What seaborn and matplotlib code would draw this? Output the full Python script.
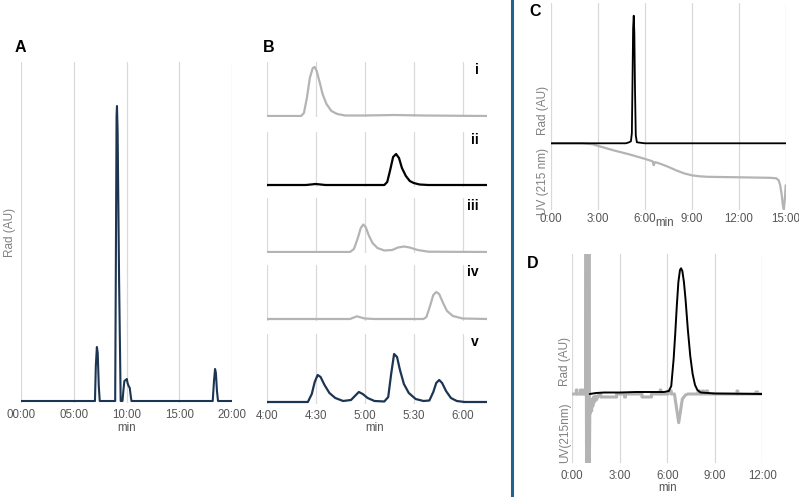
import matplotlib.pyplot as plt
import seaborn as sns
from matplotlib.lines import Line2D

sns.set_theme(style="white")
plt.rcParams['font.family'] = ['Liberation Sans', 'DejaVu Sans']

# ---------------- data (arbitrary units) ----------------
# A: full radio trace (min)
A_time = [0, 7.02, 7.1, 7.2, 7.28, 7.38, 7.47, 8.93, 9.0, 9.06, 9.1, 9.16, 9.3, 9.45,
          9.62, 9.72, 9.8, 9.92, 10.03, 10.1, 10.2, 10.31, 10.4, 10.47,
          18.15, 18.27, 18.37, 18.45, 18.55, 18.65, 20]
A_rad = [0, 0, 35, 54, 48, 15, 0, 0, 150, 285, 295, 270, 120, 0,
         0, 12, 20, 21, 22, 18, 15, 13, 5, 0,
         0, 20, 32, 28, 10, 0, 0]

# B: zoomed traces i - v
B_i_time = [4.0, 4.35, 4.38, 4.41, 4.44, 4.47, 4.49, 4.51, 4.54, 4.57, 4.61, 4.66, 4.72, 4.8, 5.0, 5.3, 5.6, 6.25]
B_i = [0, 0, 3, 18, 38, 48, 49, 45, 34, 22, 12, 5, 2, 0.5, 0.5, 1, 0.5, 0]

B_ii_time = [4.0, 4.4, 4.5, 4.6, 5.2, 5.23, 5.26, 5.29, 5.32, 5.35, 5.38, 5.42, 5.46, 5.5, 5.56, 5.65, 6.25]
B_ii = [0, 0, 1, 0, 0, 3, 15, 28, 31, 27, 17, 9, 4, 2, 0.5, 0, 0]

B_iii_time = [4.0, 4.85, 4.89, 4.93, 4.96, 4.985, 5.01, 5.04, 5.08, 5.13, 5.2, 5.28, 5.34, 5.4, 5.46, 5.54, 5.65, 6.25]
B_iii = [0, 0, 3, 14, 24, 27.5, 25, 17, 9, 4, 1.5, 2, 4.5, 5.5, 4.5, 2, 0.3, 0]

B_iv_time = [4.0, 4.85, 4.92, 5.0, 5.1, 5.6, 5.63, 5.67, 5.7, 5.73, 5.76, 5.8, 5.84, 5.9, 6.0, 6.25]
B_iv = [0, 0, 2.7, 0.5, 0, 0, 2, 14, 24, 27, 25, 16, 8, 3, 0.5, 0]

B_v_time = [4.0, 4.42, 4.46, 4.49, 4.52, 4.55, 4.59, 4.64, 4.7, 4.78, 4.86, 4.91, 4.94, 4.98, 5.03,
            5.1, 5.2, 5.24, 5.27, 5.3, 5.33, 5.36, 5.4, 5.45, 5.52, 5.6, 5.66, 5.7, 5.73, 5.76,
            5.79, 5.83, 5.88, 5.94, 6.02, 6.25]
B_v = [0, 0, 8, 20, 27, 25, 17, 9, 4, 1, 2, 7, 10, 8, 4,
       1, 0.5, 5, 28, 48, 45, 32, 18, 9, 3, 1, 1.5, 10, 19, 22,
       19, 11, 4, 1, 0, 0]

# C: radio (black) and UV 215 nm (grey)
C_rad_time = [0, 4.8, 5.0, 5.12, 5.18, 5.22, 5.26, 5.3, 5.34, 5.38, 5.43, 5.5, 6.0, 15.0]
C_rad = [0, 0, 1, 2, 10, 60, 115, 127.6, 110, 55, 8, 1, 0, 0]
C_uv_time = [0, 2.0, 2.7, 3.0, 4.0, 5.0, 6.0, 6.5, 6.58, 6.63, 6.7, 7.0, 7.5, 8.0, 8.5, 9.0, 9.5,
             10.0, 12.0, 14.0, 14.4, 14.55, 14.65, 14.75, 14.82, 14.88, 14.95, 15.0]
C_uv = [0, 0, -1, -2.5, -7, -11, -15.5, -18, -22, -19, -19, -20.5, -23.5, -27, -30, -32, -33,
        -33.5, -34, -34.5, -35, -37, -42, -52, -62, -66, -55, -42]

# D: radio (black) and UV 215 nm (grey)
D_rad_time = [1.1, 1.5, 2.0, 3.0, 4.0, 5.0, 5.8, 6.1, 6.25, 6.4, 6.5, 6.6, 6.7, 6.8, 6.87, 6.95,
              7.05, 7.15, 7.3, 7.45, 7.6, 7.75, 7.9, 8.1, 9.0, 12.0]
D_rad = [0, 1, 1.5, 1.5, 2, 2, 2, 3, 8, 35, 60, 88, 112, 124, 125.7, 123,
         112, 95, 64, 38, 20, 9, 4, 1.5, 0.5, 0]
D_uv_time = [0.0, 0.25, 0.25, 0.3, 0.3, 0.52, 0.52, 0.58, 0.58, 0.7, 0.7, 0.76, 0.76,
             0.84, 0.87, 0.9, 0.93, 0.96, 0.99, 1.02, 1.05, 1.08, 1.11,
             1.14, 1.18, 1.22, 1.26, 1.3, 1.34, 1.4, 1.46, 1.52, 1.6, 1.7,
             1.8, 1.8, 2.8, 2.8, 3.3, 3.3, 3.36, 3.36, 4.4, 4.4, 5.0, 5.0,
             5.55, 5.55, 5.6, 5.6, 6.05, 6.05, 6.25, 6.25, 6.45, 6.72, 6.95, 7.15, 7.3,
             7.95, 7.95, 8.05, 8.05, 8.2, 8.2, 8.3, 8.3, 8.45, 8.45, 8.55, 8.55,
             10.4, 10.4, 10.45, 10.45, 11.6, 11.6, 11.7, 11.7, 12.0]
D_uv = [0, 0, 4, 4, 0, 0, 4, 4, 0, 0, 4, 4, 0,
        0, 140, -69, 140, -69, 140, -69, 140, -69, -10,
        -19, -8, -17, -5, -12, -3, -8, -2, -6, -3, 0,
        0, -3, -3, 0, 0, -3, -3, 0, 0, -3, -3, 0,
        0, 4, 4, 0, 0, 3, 3, 0, 0, -28.7, -5, -1, 0,
        0, 3, 3, 0, 0, 3, 3, 0, 0, 3, 3, 0,
        0, 3, 3, 0, 0, 2, 2, 0, 0]

A_ticks = [0, 5, 10, 15, 20]
A_labels = ["00:00", "05:00", "10:00", "15:00", "20:00"]
B_ticks = [4.0, 4.5, 5.0, 5.5, 6.0]
B_labels = ["4:00", "4:30", "5:00", "5:30", "6:00"]
C_ticks = [0, 3, 6, 9, 12, 15]
C_labels = ["0:00", "3:00", "6:00", "9:00", "12:00", "15:00"]
D_ticks = [0, 3, 6, 9, 12]
D_labels = ["0:00", "3:00", "6:00", "9:00", "12:00"]

NAVY = "#1c3553"
GREY = "#b4b4b4"

# ---------------- layout ----------------
W, H = 799, 497
fig = plt.figure(figsize=(W / 100, H / 100), dpi=100)


def px_axes(l, t, r, b):
    return fig.add_axes([l / W, 1 - b / H, (r - l) / W, (b - t) / H])


def style(ax, xlim, ylim, ticks, labels=None, pad=4.5):
    ax.set_xlim(xlim)
    ax.set_ylim(ylim)
    ax.set_xticks(ticks)
    ax.set_xticklabels(labels if labels else [])
    ax.set_yticks([])
    ax.grid(axis='x', color='#d9d9d9', lw=0.9)
    ax.grid(axis='y', visible=False)
    ax.set_axisbelow(True)
    for s in ax.spines.values():
        s.set_visible(False)
    ax.tick_params(axis='x', length=0, pad=pad, labelsize=8.3, labelcolor='#555555')
    ax.set_xlabel('')
    ax.set_ylabel('')
    ax.patch.set_alpha(0)


def trace(ax, x, y, color, lw):
    sns.lineplot(x=x, y=y, ax=ax, color=color, lw=lw, estimator=None, sort=False)


# A
ax = px_axes(20.7, 62, 232.3, 403)
trace(ax, A_time, A_rad, NAVY, 1.5)
style(ax, (0, 20), (-2, 339), A_ticks, A_labels)

# B
rows = [(B_i_time, B_i, GREY, 62, 116, "i"),
        (B_ii_time, B_ii, "black", 132, 185, "ii"),
        (B_iii_time, B_iii, GREY, 198, 252, "iii"),
        (B_iv_time, B_iv, GREY, 265, 319, "iv"),
        (B_v_time, B_v, NAVY, 334, 402, "v")]
for k, (x, y, c, top, base, lab) in enumerate(rows):
    ax = px_axes(266.7, top, 486.7, base + 1.5)
    trace(ax, x, y, c, 1.6)
    last = k == len(rows) - 1
    style(ax, (4.0, 6.245), (-1.5, base - top), B_ticks, B_labels if last else None)
    fig.text(479 / W, 1 - (top + 7.5) / H, lab, ha='right', va='center',
             fontsize=10, fontweight='bold', color='black')

# C
ax = px_axes(550.7, 3, 785.7, 210)
trace(ax, C_uv_time, C_uv, GREY, 1.6)
trace(ax, C_rad_time, C_rad, "black", 1.3)
style(ax, (0, 15), (-66.7, 140.3), C_ticks, C_labels, pad=2.5)

# D
ax = px_axes(572.3, 254, 762.3, 463.3)
trace(ax, D_uv_time, D_uv, GREY, 2.2)
trace(ax, D_rad_time, D_rad, "black", 1.4)
style(ax, (0, 12), (-69.3, 140), D_ticks, D_labels)

# ---------------- texts ----------------
def ftext(x, y, s, **kw):
    fig.text(x / W, 1 - y / H, s, **kw)


for lab, x, y in [("A", 15, 47), ("B", 263, 47), ("C", 529, 12), ("D", 527, 264)]:
    ftext(x, y, lab, ha='left', va='center', fontsize=11.5, fontweight='bold', color='black')

lab_kw = dict(rotation=90, ha='center', va='center', fontsize=8.5, color='#808080')
ftext(10, 232, "Rad (AU)", **lab_kw)
ftext(543, 110, "Rad (AU)", **lab_kw)
ftext(543, 181, "UV (215 nm)", **lab_kw)
ftext(565, 361, "Rad (AU)", **lab_kw)
ftext(565, 433, "UV(215nm)", **lab_kw)

min_kw = dict(ha='center', va='center', fontsize=8.3, color='#555555')
ftext(127, 428, "min", **min_kw)
ftext(375, 428, "min", **min_kw)
ftext(665, 223, "min", **min_kw)
ftext(668, 488, "min", **min_kw)

# divider between left and right halves
fig.add_artist(Line2D([512 / W, 512 / W], [0, 1], color='#1f6391', lw=2.2,
                      transform=fig.transFigure))

fig.savefig("out.png", dpi=100)
